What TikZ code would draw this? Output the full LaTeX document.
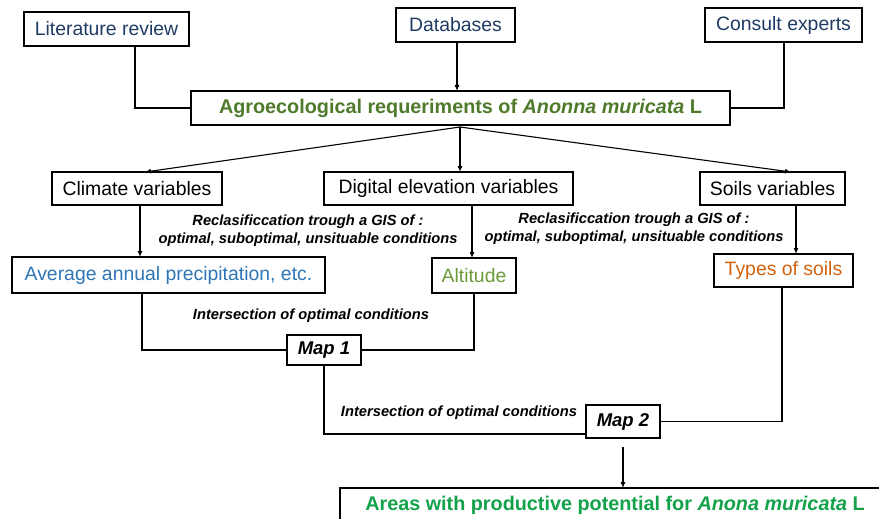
\documentclass[tikz,border=0pt]{standalone}
\usepackage{fontspec}
\setmainfont{Liberation Sans}
\usetikzlibrary{arrows.meta}
\definecolor{dblue}{HTML}{1F3B64}
\definecolor{lblue}{HTML}{2E75B6}
\definecolor{olive}{HTML}{4E7A2A}
\definecolor{altg}{HTML}{6E9A3A}
\definecolor{orng}{HTML}{D2620E}
\definecolor{bgreen}{HTML}{12A24A}
\tikzset{
  box/.style={draw=black,line width=2pt,inner sep=0pt,outer sep=0pt,font=\fontsize{19.4}{21}\selectfont},
  bigb/.style={font=\fontsize{19.8}{22}\selectfont\bfseries},
  mapf/.style={font=\fontsize{18.5}{20}\selectfont\bfseries\itshape},
  conn/.style={line width=1.3pt},
  arr/.style={line width=1.1pt,-{Latex[length=6pt,width=5pt]}},
  lbl/.style={font=\fontsize{14.7}{18}\selectfont\bfseries\itshape,align=center,inner sep=0pt}
}
\begin{document}
\begin{tikzpicture}[x=1pt,y=-1pt]
\useasboundingbox (0,0) rectangle (879,519);
\node[box,minimum width=165pt,minimum height=34pt,text=dblue] (lit) at (106.5,29) {Literature review};
\node[box,minimum width=119pt,minimum height=34pt,text=dblue] (db) at (455.5,25) {Databases};
\node[box,minimum width=157pt,minimum height=34pt,text=dblue] (ce) at (783.5,25) {Consult experts};
\node[box,minimum width=539pt,minimum height=34pt,text=olive,bigb] (agro) at (460.5,108) {Agroecological requeriments of \textit{Anonna muricata} L};
\node[box,minimum width=170pt,minimum height=33pt] (clim) at (137,188.5) {Climate variables};
\node[box,minimum width=249pt,minimum height=33pt] (dig) at (448.5,188.5) {Digital elevation variables};
\node[box,minimum width=145pt,minimum height=33pt] (soil) at (772.5,188.5) {Soils variables};
\node[box,minimum width=313pt,minimum height=36pt,text=lblue] (prec) at (168.5,275) {Average annual precipitation, etc.};
\node[box,minimum width=84pt,minimum height=35pt,text=altg] (alt) at (474,275.5) {Altitude};
\node[box,minimum width=139pt,minimum height=33pt,text=orng] (tos) at (783.5,270.5) {Types of soils};
\node[box,minimum width=74pt,minimum height=30pt,mapf] (m1) at (324,350) {Map 1};
\node[box,minimum width=74pt,minimum height=33pt,mapf] (m2) at (623,421.5) {Map 2};
\node[box,minimum width=560pt,minimum height=50pt,anchor=north west] (area) at (340,488) {};
\node[text=bgreen,bigb,inner sep=0pt] (areat) at (615,505) {Areas with productive potential for \textit{Anona muricata} L};
% labels
\node[lbl] (l1) at (308,231) {Reclasificcation trough a GIS of :\\optimal, suboptimal, unsituable conditions};
\node[lbl] (l2) at (634,229) {Reclasificcation trough a GIS of :\\optimal, suboptimal, unsituable conditions};
\node[lbl] (l3) at (311,316) {Intersection of optimal conditions};
\node[lbl] (l4) at (459,413) {Intersection of optimal conditions};
% connectors top
\draw[conn] (lit.south -| 135,0) |- (agro.west);
\draw[arr] (db.south -| 457,0) -- (agro.north -| 457,0);
\draw[conn] (ce.south -| 784,0) |- (agro.east);
% fan out
\coordinate (fan) at (460,127);
\draw[arr] (fan) -- (clim.north -| 145,0);
\draw[arr] (fan) -- (dig.north -| 460,0);
\draw[arr] (fan) -- (soil.north -| 791,0);
% down arrows
\draw[arr] (clim.south -| 140,0) -- (prec.north -| 140,0);
\draw[arr] (dig.south -| 472,0) -- (alt.north -| 472,0);
\draw[arr] (soil.south -| 796,0) -- (tos.north -| 796,0);
% intersections
\draw[conn] (prec.south -| 142,0) |- (m1.west);
\draw[conn] (alt.south -| 474,0) |- (m1.east);
\draw[conn] (m1.south) |- (m2.west |- 0,434);
\draw[conn] (tos.south -| 782,0) |- (m2.east);
\draw[arr] (m2.south |- 0,447) -- (area.north -| m2.south);
\end{tikzpicture}
\end{document}
